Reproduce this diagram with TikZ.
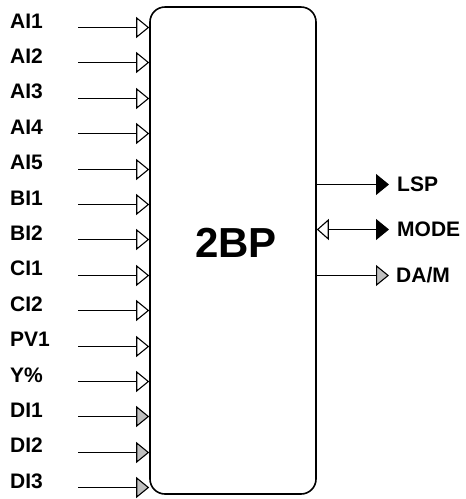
\documentclass[tikz,border=0pt]{standalone}
\usepackage{fontspec}
\setmainfont{Liberation Sans}
\usetikzlibrary{arrows.meta}

\tikzset{
  blk/.style={draw, line width=1.6pt, rounded corners=15pt, minimum width=166pt,
              minimum height=487pt, inner sep=0pt},
  lbl/.style={font=\fontsize{21}{25}\selectfont\bfseries, inner sep=0pt},
  inw/.style={line width=1.1pt, -{Triangle[open, length=13pt, width=21pt]}},
  ing/.style={line width=1.1pt, -{Triangle[length=13pt, width=21pt, fill=black!25]}},
  outk/.style={line width=1.1pt, -{Triangle[length=13pt, width=21pt]}},
  outg/.style={line width=1.1pt, -{Triangle[length=13pt, width=21pt, fill=black!25]}},
  outm/.style={line width=1.1pt, {Triangle[open, length=12pt, width=21pt]}-{Triangle[length=13pt, width=21pt]}}
}

\begin{document}
\begin{tikzpicture}[x=1pt, y=-1pt]
\useasboundingbox (0,0) rectangle (466,499);

% function block
\node[blk] (blk) at (233,250.5) {};
\node[font=\fontsize{42}{48}\selectfont\bfseries] (name) at (236,243) {2BP};

% inputs
\foreach \txt/\k [count=\i from 0] in {AI1/inw, AI2/inw, AI3/inw, AI4/inw, AI5/inw,
    BI1/inw, BI2/inw, CI1/inw, CI2/inw, PV1/inw, Y\%/inw, DI1/ing, DI2/ing, DI3/ing} {
  \coordinate (s\i) at (78, {27.5+round(35.4*\i)});
  \node[lbl, anchor=base west] (l\i) at (10, 28+35.4*\i) {\txt};
  \draw[\k] (s\i) -- (s\i -| blk.west);
}

% outputs
\coordinate (o1) at (389,184.5);
\coordinate (o2) at (389,229.5);
\coordinate (o3) at (389,275.5);
\draw[outk] (blk.east |- o1) -- (o1);
\draw[outm] (blk.east |- o2) -- (o2);
\draw[outg] (blk.east |- o3) -- (o3);
\node[lbl, anchor=west] (lsp) at (397,184) {LSP};
\node[lbl, anchor=west] (mode) at (397,229) {MODE};
\node[lbl, anchor=west] (dam) at (396,275) {DA/M};
\end{tikzpicture}
\end{document}
